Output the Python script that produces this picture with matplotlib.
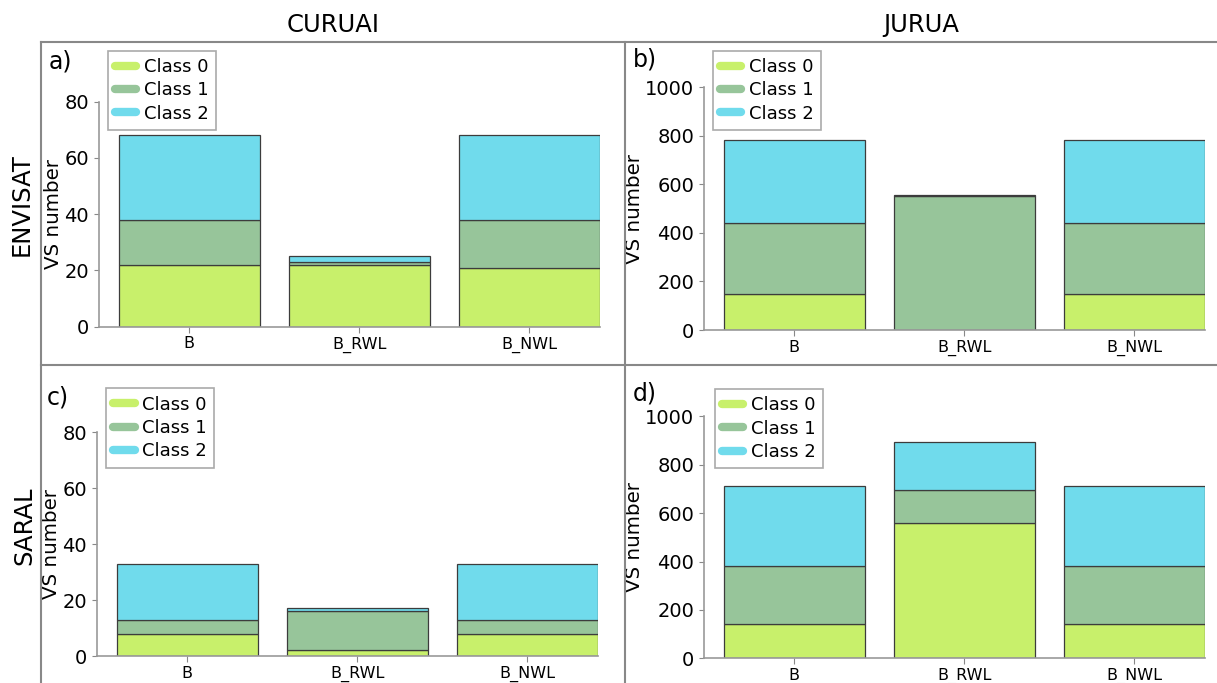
import numpy as np
import matplotlib
matplotlib.use('Agg')
import matplotlib.pyplot as plt
from matplotlib.lines import Line2D

plt.rcParams['font.family'] = ['DejaVu Sans']

categories = ['B', 'B_RWL', 'B_NWL']
class_names = ['Class 0', 'Class 1', 'Class 2']

# values per panel: rows = class 0, 1, 2 ; cols = categories
curuai_envisat = [[22, 22, 21], [16, 1, 17], [30, 2, 30]]
jurua_envisat = [[148, 0, 148], [292, 551, 292], [343, 5, 343]]
curuai_saral = [[8, 2, 8], [5, 14, 5], [20, 1, 20]]
jurua_saral = [[141, 559, 141], [239, 135, 239], [333, 198, 333]]

colors = ['#c8f06b', '#97c59a', '#70dbec']

W, H = 1217, 683
fig = plt.figure(figsize=(W / 100, H / 100), dpi=100)

# panel: data, label, ymax, yticks, left px, bottom px (y=0), top px (y=max), tag pos, legend pos
panels = [
    (curuai_envisat, 'a)', 80, [0, 20, 40, 60, 80], 99, 326.7, 101.7, (49, 62), (107.5, 50.7)),
    (jurua_envisat, 'b)', 1000, [0, 200, 400, 600, 800, 1000], 704, 330, 87.3, (633, 60), (712.6, 50.7)),
    (curuai_saral, 'c)', 80, [0, 20, 40, 60, 80], 97, 656, 432.3, (47, 397), (106, 388.3)),
    (jurua_saral, 'd)', 1000, [0, 200, 400, 600, 800, 1000], 704, 658.3, 416.3, (633, 393), (714.5, 389)),
]

xlim = (-0.53, 2.415)
ax_w = 500.6

for data, tag, ymax, yticks, left, y0, y1, tagpos, legpos in panels:
    ax = fig.add_axes([left / W, 1 - y0 / H, ax_w / W, (y0 - y1) / H])
    x = np.arange(len(categories))
    bottom = np.zeros(len(categories))
    for i, vals in enumerate(data):
        vals = np.array(vals, dtype=float)
        ax.bar(x, vals, width=0.83, bottom=bottom, color=colors[i],
               edgecolor='#3c3c3c', linewidth=0.9, label=class_names[i], zorder=2)
        bottom += vals
    ax.set_xlim(*xlim)
    ax.set_ylim(0, ymax)
    ax.set_xticks(x)
    ax.set_xticklabels(categories, fontsize=11.5)
    ax.set_yticks(yticks)
    ax.tick_params(axis='y', labelsize=14, length=3.6, color='#888888', pad=3.5)
    ax.tick_params(axis='x', length=4, color='#888888', pad=3)
    for s in ['top', 'right']:
        ax.spines[s].set_visible(False)
    for s in ['left', 'bottom']:
        ax.spines[s].set_color('#999999')
        ax.spines[s].set_linewidth(1.2)
    ax.set_ylabel('VS number', fontsize=14.3, labelpad=1)

    handles = [Line2D([0], [0], color=c, lw=6, solid_capstyle='round') for c in colors]
    leg = ax.legend(handles, class_names, loc='upper left',
                    bbox_to_anchor=(legpos[0] / W, 1 - legpos[1] / H),
                    bbox_transform=fig.transFigure, fontsize=13,
                    handlelength=1.2, handletextpad=0.4, labelspacing=0.3,
                    borderpad=0.4, borderaxespad=0, fancybox=False, framealpha=1)
    leg.get_frame().set_edgecolor('#aaaaaa')
    leg.get_frame().set_linewidth(1.2)
    fig.text(tagpos[0] / W, 1 - tagpos[1] / H, tag, fontsize=17, ha='left', va='center')

# column / row titles
fig.text(333 / W, 1 - 25 / H, 'CURUAI', fontsize=17.5, ha='center', va='center')
fig.text(921 / W, 1 - 25 / H, 'JURUA', fontsize=17.5, ha='center', va='center')
fig.text(22 / W, 1 - 205 / H, 'ENVISAT', fontsize=17.5, rotation=90, ha='center', va='center')
fig.text(24 / W, 1 - 526 / H, 'SARAL', fontsize=17.5, rotation=90, ha='center', va='center')

# grid frame lines
lc = '#888888'
fig.add_artist(Line2D([41 / W, 1], [1 - 42 / H, 1 - 42 / H], color=lc, lw=1.5, transform=fig.transFigure))
fig.add_artist(Line2D([41 / W, 1], [1 - 365 / H, 1 - 365 / H], color=lc, lw=1.5, transform=fig.transFigure))
fig.add_artist(Line2D([41 / W, 41 / W], [0, 1 - 42 / H], color=lc, lw=1.5, transform=fig.transFigure))
fig.add_artist(Line2D([625 / W, 625 / W], [0, 1 - 42 / H], color=lc, lw=1.5, transform=fig.transFigure))

fig.savefig('out.png', dpi=100)
